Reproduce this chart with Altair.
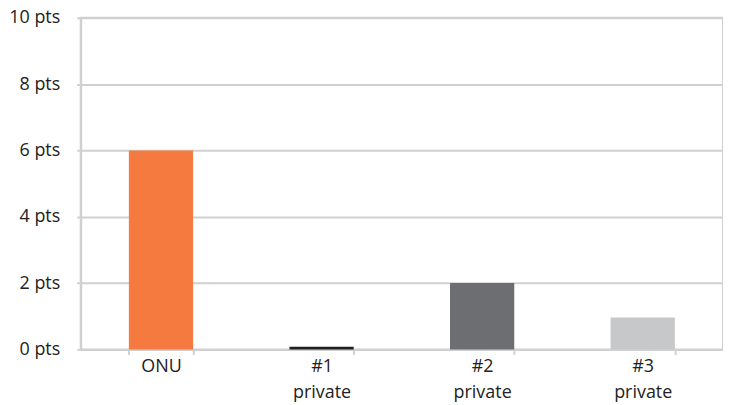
import altair as alt
import pandas as pd

categories = ["ONU", "#1 private", "#2 private", "#3 private"]
values = [6.0, 0.08, 2.0, 0.96]
colors = ["#F47A3F", "#231F20", "#6D6E71", "#C7C8CA"]

df = pd.DataFrame({"cat": categories, "val": values, "color": colors})

grid = "#D0D0D0"
font = "Open Sans"

chart = alt.Chart(df).mark_bar().encode(
    x=alt.X("cat:N", sort=categories, title=None,
            scale=alt.Scale(paddingInner=0.6, paddingOuter=0.3),
            axis=alt.Axis(labelAngle=0, tickBand="extent", ticks=True, tickSize=5,
                          tickColor=grid, tickWidth=2, domainColor=grid, domainWidth=2,
                          labelExpr="split(datum.label, ' ')", labelFont=font,
                          labelFontSize=18, labelColor="#222222", labelPadding=3,
                          labelLineHeight=26)),
    y=alt.Y("val:Q", title=None,
            scale=alt.Scale(domain=[0, 10]),
            axis=alt.Axis(values=[0, 2, 4, 6, 8, 10], labelExpr="datum.value + ' pts'",
                          grid=True, gridColor=grid, gridWidth=2, domainColor=grid,
                          domainWidth=2, tickColor=grid, tickWidth=2, tickSize=4,
                          labelFont=font, labelFontSize=18, labelColor="#222222",
                          labelPadding=17)),
    color=alt.Color("color:N", scale=None, legend=None),
).properties(width=645, height=333,
             padding={"top": 0, "left": 0, "right": 0, "bottom": 0}).configure_view(
    stroke=grid, strokeWidth=2
)

chart.save("out.html", embed_options={"renderer": "svg", "actions": False})
